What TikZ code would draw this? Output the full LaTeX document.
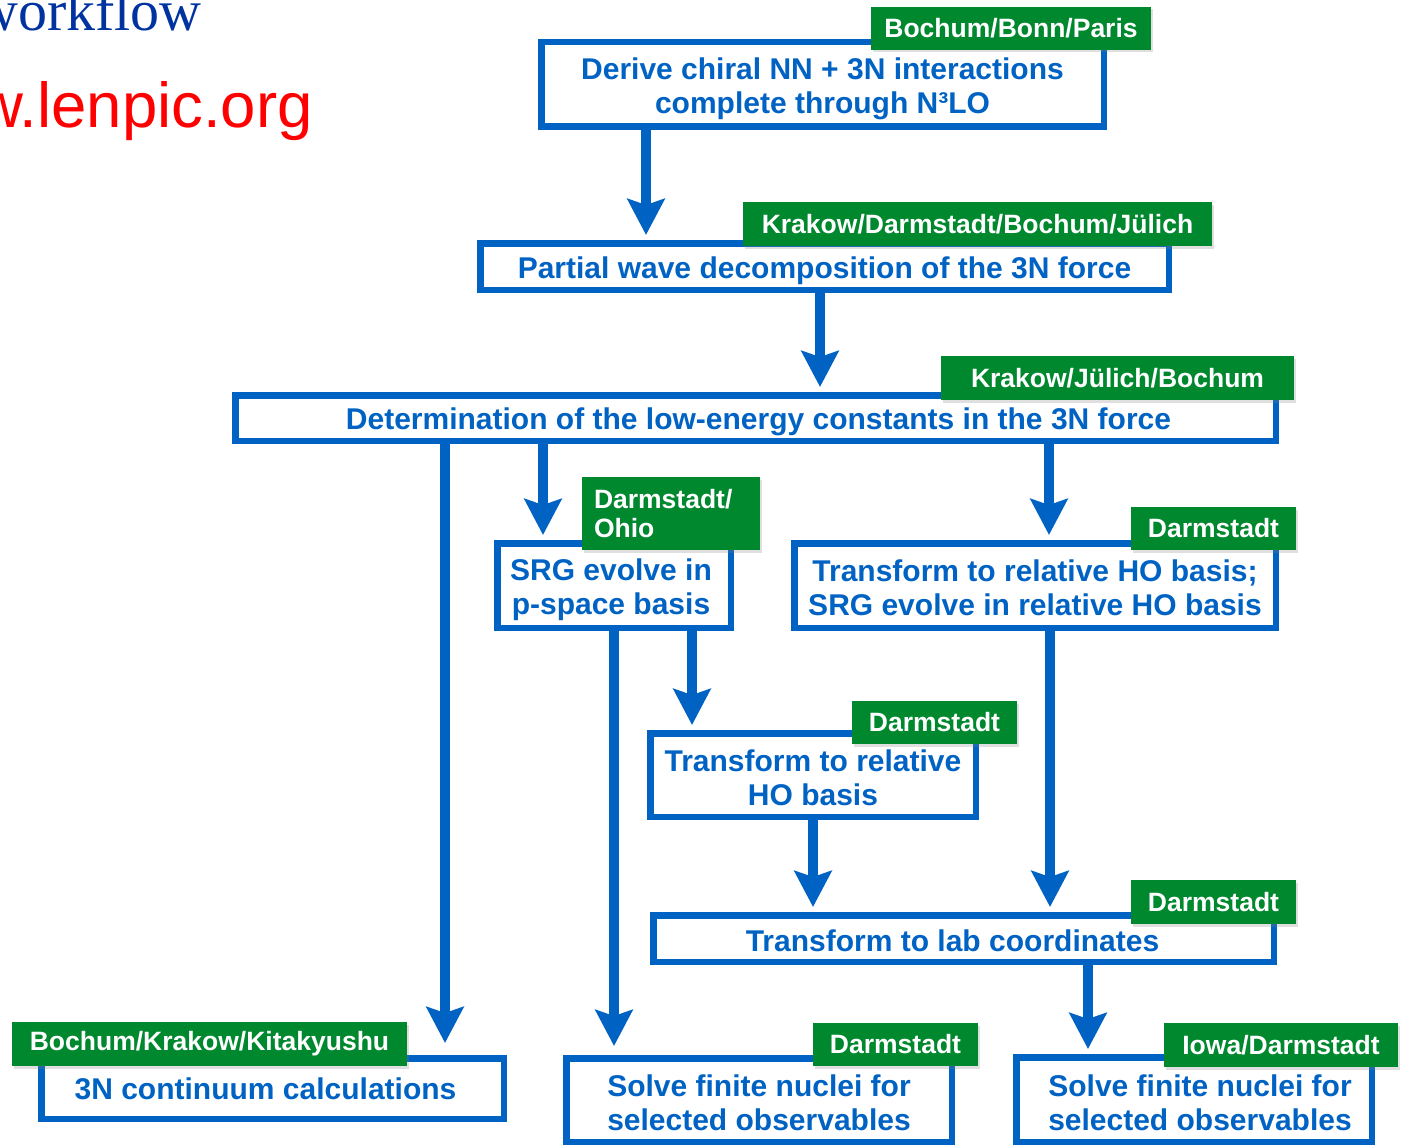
\documentclass[tikz,border=0pt]{standalone}
\usepackage{fontspec}
\setmainfont{Liberation Sans}
\newfontfamily\titleserif{Liberation Serif}
\usetikzlibrary{arrows.meta,shadows}
\definecolor{boxblue}{RGB}{0,99,196}
\definecolor{labgreen}{RGB}{0,136,46}
\definecolor{titleblue}{RGB}{0,51,160}
\tikzset{
  flowbox/.style={draw=boxblue, line width=6.5pt, fill=white, inner sep=0pt,
    drop shadow={shadow xshift=2pt, shadow yshift=-2.5pt, opacity=0.25}},
  boxtext/.style={inner sep=0pt, align=center, text=boxblue,
    font=\bfseries\fontsize{30}{34}\selectfont},
  grouplabel/.style={fill=labgreen, text=white, inner sep=0pt, align=center,
    font=\bfseries\fontsize{26.5}{29}\selectfont,
    drop shadow={shadow xshift=2pt, shadow yshift=-2.5pt, opacity=0.25}},
  flowarrow/.style={draw=boxblue, line width=9.5pt,
    -{Stealth[length=36pt, width=37pt, inset=6pt]}, shorten >=5pt}
}
\begin{document}
\begin{tikzpicture}[x=1pt, y=-1pt]
\useasboundingbox (0,0) rectangle (1404,1145);

% title fragments (clipped at the left edge, as in the reference)
\begin{scope}
  \clip (0,0) rectangle (420,160);
  \node[anchor=base east, inner sep=0pt, text=titleblue,
        font=\titleserif\fontsize{58}{64}\selectfont] (title) at (202,31) {workflow};
  \node[anchor=base east, inner sep=0pt, text=red,
        font=\fontsize{63.5}{70}\selectfont] (url) at (313,128) {www.lenpic.org};
\end{scope}

% boxes
\node[flowbox, minimum width=562.5pt, minimum height=84.5pt] (B1) at (822.5,84.5) {};
\node[flowbox, minimum width=688.5pt, minimum height=46.5pt] (B2) at (824.5,266.5) {};
\node[flowbox, minimum width=1040.5pt, minimum height=45.5pt] (B3) at (755.5,418) {};
\node[flowbox, minimum width=233.5pt, minimum height=84.5pt] (B4) at (614,585.5) {};
\node[flowbox, minimum width=481.5pt, minimum height=84.5pt] (B5) at (1035,585.5) {};
\node[flowbox, minimum width=325.5pt, minimum height=83.5pt] (B6) at (813,775) {};
\node[flowbox, minimum width=620.5pt, minimum height=46.5pt] (B7) at (963.5,938.5) {};
\node[flowbox, minimum width=462.5pt, minimum height=60.5pt] (B8) at (272.5,1088.5) {};
\node[flowbox, minimum width=385.5pt, minimum height=83.5pt] (B9) at (759,1100) {};
\node[flowbox, minimum width=355.5pt, minimum height=84.5pt] (B10) at (1194,1099.5) {};

% box texts
\node[boxtext] (T1) at ([yshift=-4.5pt]B1.center) {Derive chiral NN + 3N interactions\\complete through N³LO};
\node[boxtext] (T2) at ([yshift=-4pt]B2.center) {Partial wave decomposition of the 3N force};
\node[boxtext] (T3) at ([xshift=3pt, yshift=-4pt]B3.center) {Determination of the low-energy constants in the 3N force};
\node[boxtext] (T4) at ([xshift=-3pt, yshift=-4.5pt]B4.center) {SRG evolve in\\p-space basis};
\node[boxtext] (T5) at ([yshift=-2pt]B5.center) {Transform to relative HO basis;\\SRG evolve in relative HO basis};
\node[boxtext] (T6) at ([yshift=-3pt]B6.center) {Transform to relative\\HO basis};
\node[boxtext] (T7) at ([xshift=-11pt, yshift=-2pt]B7.center) {Transform to lab coordinates};
\node[boxtext] (T8) at ([xshift=-7pt]B8.center) {3N continuum calculations};
\node[boxtext] (T9) at ([yshift=-3pt]B9.center) {Solve finite nuclei for\\selected observables};
\node[boxtext] (T10) at ([xshift=6pt, yshift=-3pt]B10.center) {Solve finite nuclei for\\selected observables};

% arrow columns
\coordinate (c1) at (646,0);
\coordinate (c2) at (820,0);
\coordinate (c3) at (445,0);
\coordinate (c4) at (543,0);
\coordinate (c5) at (1049,0);
\coordinate (c6) at (692,0);
\coordinate (c7) at (614,0);
\coordinate (c8) at (1050,0);
\coordinate (c9) at (813,0);
\coordinate (c10) at (1088,0);

% arrows
\draw[flowarrow] (B1.south -| c1) -- (B2.north -| c1);
\draw[flowarrow] (B2.south -| c2) -- (B3.north -| c2);
\draw[flowarrow, shorten >=12pt] (B3.south -| c3) -- (B8.north -| c3);
\draw[flowarrow] (B3.south -| c4) -- (B4.north -| c4);
\draw[flowarrow] (B3.south -| c5) -- (B5.north -| c5);
\draw[flowarrow] (B4.south -| c6) -- (B6.north -| c6);
\draw[flowarrow, shorten >=9pt] (B4.south -| c7) -- (B9.north -| c7);
\draw[flowarrow] (B5.south -| c8) -- (B7.north -| c8);
\draw[flowarrow] (B6.south -| c9) -- (B7.north -| c9);
\draw[flowarrow] (B7.south -| c10) -- (B10.north -| c10);

% group labels
\node[grouplabel, minimum width=280pt, minimum height=43pt] (L1) at (1011,28.5) {Bochum/Bonn/Paris};
\node[grouplabel, minimum width=469pt, minimum height=44pt] (L2) at (977.5,224) {Krakow/Darmstadt/Bochum/Jülich};
\node[grouplabel, minimum width=353pt, minimum height=44pt] (L3) at (1117.5,378) {Krakow/Jülich/Bochum};
\node[grouplabel, minimum height=73pt, text width=154pt, align=left, inner xsep=12pt] (L4) at (671,513.5) {Darmstadt/\\Ohio};
\node[grouplabel, minimum width=165pt, minimum height=43pt] (L5) at (1213.5,528.5) {Darmstadt};
\node[grouplabel, minimum width=165pt, minimum height=43pt] (L6) at (934.5,722.5) {Darmstadt};
\node[grouplabel, minimum width=165pt, minimum height=44pt] (L7) at (1213.5,902) {Darmstadt};
\node[grouplabel, minimum width=395pt, minimum height=44pt] (L8) at (209.5,1044) {Bochum/Krakow/Kitakyushu};
\node[grouplabel, minimum width=165pt, minimum height=43pt] (L9) at (895.5,1044.5) {Darmstadt};
\node[grouplabel, minimum width=234pt, minimum height=44pt] (L10) at (1281,1045) {Iowa/Darmstadt};
\end{tikzpicture}
\end{document}
